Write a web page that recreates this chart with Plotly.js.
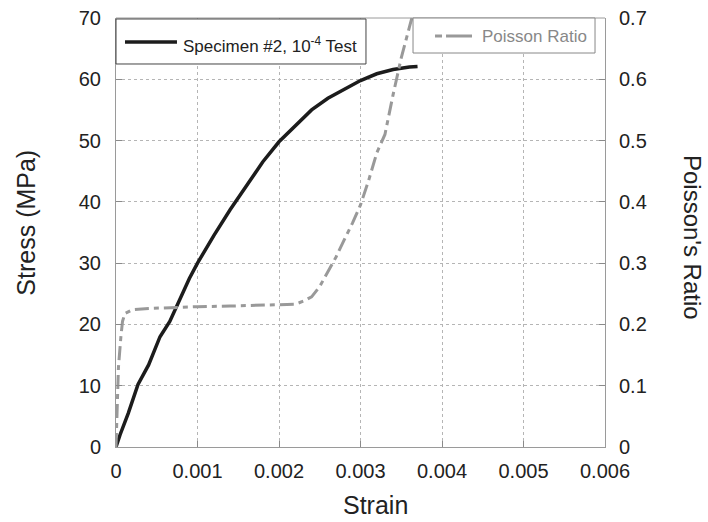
<!DOCTYPE html>
<html>
<head>
<meta charset="utf-8">
<script src="https://cdn.plot.ly/plotly-3.0.1.min.js"></script>
<style>html,body{margin:0;padding:0;background:#fff;}#chart{width:708px;height:522px;}</style>
</head>
<body>
<div id="chart"></div>
<script>
// Stress–strain curve (Specimen #2, 10^-4 test)
const stressStrain = [0, 0.00005, 0.00015, 0.00027, 0.0004, 0.00054, 0.00066, 0.0008, 0.0009, 0.001,
  0.0012, 0.0014, 0.0016, 0.0018, 0.002, 0.0022, 0.0024, 0.0026, 0.0028, 0.003,
  0.0032, 0.0034, 0.0036, 0.0037];
const stressMPa = [0, 2, 5.5, 10.2, 13.4, 18, 20.5, 24.5, 27.5, 30,
  34.5, 38.7, 42.5, 46.5, 49.8, 52.5, 55, 56.9, 58.4, 59.8,
  60.9, 61.6, 62, 62.1];

// Poisson ratio curve
const poissonStrain = [0, 0.00001, 0.00002, 0.00003, 0.00006, 0.00008, 0.00011, 0.0002, 0.0004, 0.0007,
  0.001, 0.0014, 0.0018, 0.0021, 0.0022, 0.0023, 0.0024, 0.0025, 0.0026, 0.0027,
  0.0028, 0.0029, 0.003, 0.0031, 0.0032, 0.0033, 0.0034, 0.0035, 0.0036, 0.00363];
const poissonRatio = [0, 0.04, 0.08, 0.13, 0.18, 0.205, 0.218, 0.224, 0.226, 0.228,
  0.229, 0.230, 0.231, 0.232, 0.233, 0.238, 0.245, 0.262, 0.285, 0.31,
  0.338, 0.365, 0.395, 0.435, 0.48, 0.51, 0.575, 0.635, 0.685, 0.70];

const stressName = 'Specimen #2, 10<sup>-4</sup> Test';
const poissonName = 'Poisson Ratio';

const FONT = '"Liberation Sans", Arial, Helvetica, sans-serif';

const traces = [
  {x: stressStrain, y: stressMPa, name: stressName, type: 'scatter', mode: 'lines',
   line: {color: '#1c1c1c', width: 3.5}, yaxis: 'y', showlegend: false},
  {x: poissonStrain, y: poissonRatio, name: poissonName, type: 'scatter', mode: 'lines',
   line: {color: '#999999', width: 3, dash: '14px,5px,5px,5px'}, yaxis: 'y2', showlegend: false}
];

const axisCommon = {
  showline: true, linecolor: '#9a9a9a', linewidth: 1,
  showgrid: true, gridcolor: '#b5b5b5', griddash: 'dot', gridwidth: 1,
  ticks: 'inside', ticklen: 6, tickcolor: '#8a8a8a',
  zeroline: false,
  tickfont: {family: FONT, size: 20, color: '#222'}
};

const layout = {
  width: 708, height: 522,
  margin: {l: 116, r: 103, t: 18, b: 75},
  paper_bgcolor: '#fff', plot_bgcolor: '#fff',
  font: {family: FONT, color: '#222'},
  showlegend: false,
  xaxis: Object.assign({}, axisCommon, {range: [0, 0.006], dtick: 0.001, tick0: 0, ticklabelstandoff: 6}),
  yaxis: Object.assign({}, axisCommon, {range: [0, 70], dtick: 10, tick0: 0, ticklabelstandoff: 10}),
  yaxis2: Object.assign({}, axisCommon, {range: [0, 0.7], dtick: 0.1, tick0: 0, overlaying: 'y', side: 'right',
    showgrid: false, ticklabelstandoff: 9}),
  shapes: [
    {type: 'line', xref: 'paper', yref: 'paper', x0: 0, x1: 1, y0: 1, y1: 1, line: {color: '#9a9a9a', width: 1}},
    {type: 'rect', xref: 'paper', yref: 'paper', x0: 0, x1: 0.5112, y0: 0.8928, y1: 0.9977,
     fillcolor: '#fff', line: {color: '#444', width: 1}, layer: 'above'},
    {type: 'line', xref: 'paper', yref: 'paper', x0: 0.0184, x1: 0.1247, y0: 0.944, y1: 0.944,
     line: {color: '#1c1c1c', width: 3.5}, layer: 'above'},
    {type: 'rect', xref: 'paper', yref: 'paper', x0: 0.6074, x1: 0.9796, y0: 0.9184, y1: 1.0,
     fillcolor: '#fff', line: {color: '#888', width: 1}, layer: 'above'},
    {type: 'line', xref: 'paper', yref: 'paper', x0: 0.6524, x1: 0.7280, y0: 0.958, y1: 0.958,
     line: {color: '#999', width: 3, dash: '7px,4px,30px'}, layer: 'above'}
  ],
  annotations: [
    {text: stressName, xref: 'paper', yref: 'paper', x: 0.1329, y: 0.938, xanchor: 'left', yanchor: 'middle',
     showarrow: false, font: {family: FONT, size: 17, color: '#222'}},
    {text: poissonName, xref: 'paper', yref: 'paper', x: 0.7444, y: 0.958, xanchor: 'left', yanchor: 'middle',
     showarrow: false, font: {family: FONT, size: 17, color: '#888'}},
    {text: 'Strain', xref: 'paper', yref: 'paper', x: 0.53, y: -0.135, xanchor: 'center', yanchor: 'middle',
     showarrow: false, font: {family: FONT, size: 25, color: '#222'}},
    {text: 'Stress (MPa)', xref: 'paper', yref: 'paper', x: -0.184, y: 0.523, xanchor: 'center', yanchor: 'middle',
     textangle: -90, showarrow: false, font: {family: FONT, size: 25, color: '#222'}},
    {text: "Poisson's Ratio", xref: 'paper', yref: 'paper', x: 1.18, y: 0.4895, xanchor: 'center', yanchor: 'middle',
     textangle: 90, showarrow: false, font: {family: FONT, size: 24, color: '#222'}}
  ]
};

Plotly.newPlot('chart', traces, layout, {displayModeBar: false, staticPlot: true});
</script>
</body>
</html>
